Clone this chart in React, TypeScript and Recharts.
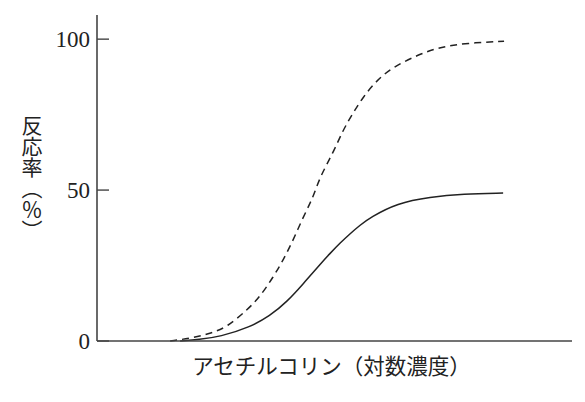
import React from 'react';
import { LineChart, Line, XAxis, YAxis } from 'recharts';

// log concentration (arbitrary units along x axis) and response (%)
const dashedConc = [15.4, 20.2, 24.0, 27.4, 31.6, 34.3, 37.1, 39.2, 41.3, 43.4, 45.5, 46.9, 49.7, 51.8, 53.9, 56.0, 58.9, 62.3, 67.4, 72.2, 77.9, 85.7];
const dashedResp = [0, 1.0, 2.6, 4.6, 10.3, 14.6, 21.2, 26.8, 33.4, 41.1, 47.5, 54.3, 62.3, 69.9, 75.5, 80.8, 86.4, 90.7, 94.7, 97.4, 98.7, 99.3];

const solidConc = [17.5, 21.5, 25.9, 32.2, 36.4, 40.0, 43.4, 46.9, 49.1, 51.2, 53.3, 55.4, 57.5, 63.2, 70.1, 77.1, 85.5];
const solidResp = [0, 0.5, 1.4, 4.6, 8.3, 13.0, 18.9, 25.3, 29.1, 32.5, 35.6, 38.4, 40.9, 45.7, 47.7, 48.7, 49.0];

const yTicks = [0, 50, 100];
const xLabel = 'アセチルコリン（対数濃度）';
const yLabel = '反応率（％）';

const dashedData = dashedConc.map((x, i) => ({ x, y: dashedResp[i] }));
const solidData = solidConc.map((x, i) => ({ x, y: solidResp[i] }));

const FONT = '"Liberation Serif", "Noto Sans CJK JP", serif';
const CJK = '"Noto Sans CJK JP", "Liberation Serif", serif';
const INK = '#222';

const XLabel = (props: any) => {
  const vb = props.viewBox || { x: 0, y: 0, width: 0, height: 0 };
  return (
    <text
      x={vb.x + vb.width / 2 - 3}
      y={vb.y + 23}
      textAnchor="middle"
      dominantBaseline="central"
      fontFamily={CJK}
      fontSize={21.5}
      fill={INK}
    >
      {xLabel}
    </text>
  );
};

const YLabel = (props: any) => {
  const vb = props.viewBox || { x: 0, y: 0, width: 0, height: 0 };
  return (
    <text
      x={32}
      y={vb.y + vb.height / 2}
      textAnchor="middle"
      fontFamily={CJK}
      fontSize={21}
      fill={INK}
      style={{ writingMode: 'vertical-rl' } as any}
    >
      {yLabel}
    </text>
  );
};

export default function App() {
  return (
    <div style={{ position: 'absolute', left: 0, top: 0, background: '#fff' }}>
      <LineChart width={585} height={402} margin={{ top: 15, right: 13, left: 0, bottom: 0 }}>
        <XAxis
          type="number"
          dataKey="x"
          domain={[0, 100]}
          ticks={[]}
          tick={false}
          tickLine={false}
          height={61}
          axisLine={{ stroke: '#444', strokeWidth: 1.6 }}
          label={<XLabel />}
        />
        <YAxis
          type="number"
          dataKey="y"
          domain={[0, 108]}
          ticks={yTicks}
          width={97}
          tickSize={-12}
          tickMargin={19}
          tickLine={{ stroke: '#444', strokeWidth: 1.4 }}
          axisLine={{ stroke: '#444', strokeWidth: 1.6 }}
          tick={{ fontFamily: FONT, fontSize: 23, fill: INK }}
          label={<YLabel />}
        />
        <Line
          data={dashedData}
          dataKey="y"
          type="basis"
          stroke={INK}
          strokeWidth={1.5}
          strokeDasharray="7 5"
          dot={false}
          isAnimationActive={false}
        />
        <Line
          data={solidData}
          dataKey="y"
          type="basis"
          stroke={INK}
          strokeWidth={1.5}
          dot={false}
          isAnimationActive={false}
        />
      </LineChart>
    </div>
  );
}
